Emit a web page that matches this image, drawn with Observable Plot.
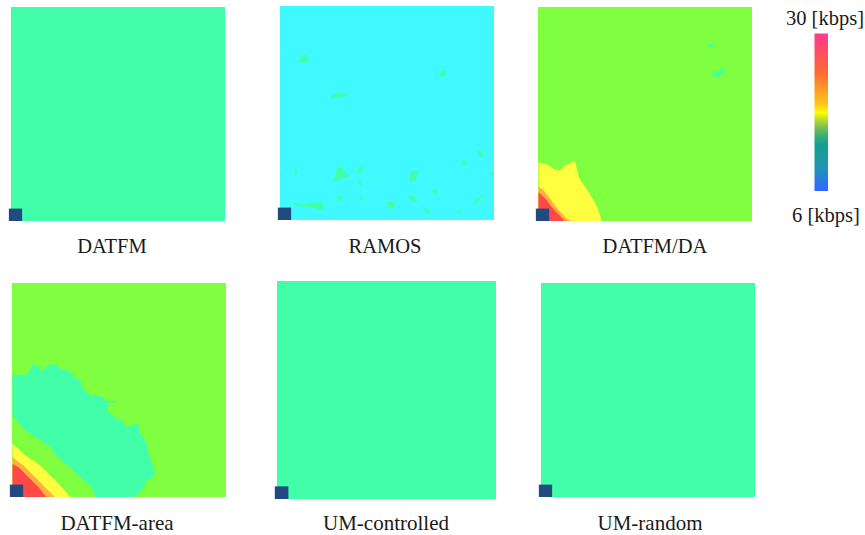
<!DOCTYPE html>
<html>
<head>
<meta charset="utf-8">
<script src="https://cdn.jsdelivr.net/npm/d3@7"></script>
<script src="https://cdn.jsdelivr.net/npm/@observablehq/plot@0.6"></script>
<style>
  html, body { margin: 0; padding: 0; background: #fff; }
  #root { position: relative; width: 865px; height: 535px; overflow: hidden; }
  .panel { position: absolute; }
  .panel svg { background: transparent !important; overflow: visible; }
  .lbl { position: absolute; font-family: "Liberation Serif", "Times New Roman", serif; font-size: 20.5px;
         line-height: 20px; color: #1a1a1a; white-space: nowrap; transform: translateX(-50%); }
  .lbl.row2 { font-size: 21px; }
</style>
</head>
<body>
<div id="root"></div>
<script>
// ---------- data ----------
// throughput band levels (kbps) and their fill colours
const levels = [9, 12, 15, 18, 21, 24];
const levelColors = ["#40f8ff", "#40ffa8", "#80ff40", "#ffff40", "#ffb040", "#ff4848"];

const panelNames = ["DATFM", "RAMOS", "DATFM/DA", "DATFM-area", "UM-controlled", "UM-random"];
const panelBase = [12, 9, 15, 15, 12, 12];   // dominant band level over the field

// sink cell (bottom-left corner of the field, field units 0..100)
const sinkCell = {x1: -1, x2: 5.2, y1: 0, y2: 5.8};

// RAMOS: scattered 12 kbps patches
const ramosSpots = [
  [[8.6,74.3],[9.3,76.9],[11.7,77.4],[13.7,75.7],[12.1,73.8],[9.7,73.8]],
  [[61.7,79.9],[62.5,79.9],[62.3,78.5],[61.8,78.7]],
  [[74.8,69.6],[77.1,70.2],[77.6,68.1],[75.5,67.1],[74.0,67.1]],
  [[23.1,57.5],[24.9,59.0],[31.2,59.7],[31.6,58.1],[26.5,57.6],[23.1,57.0]],
  [[91.6,32.6],[93.8,33.0],[95.0,29.4],[92.7,30.2]],
  [[84.9,27.9],[85.7,28.5],[87.5,26.0],[84.7,26.0]],
  [[98.1,22.4],[100,22.9],[100,19.3]],
  [[0,22.0],[0.8,20.9],[0,19.8]],
  [[6.2,24.8],[7.2,24.0],[8.1,22.4],[7.0,20.6]],
  [[26.5,25.1],[28.8,24.5],[32.7,20.4],[28.8,19.8],[24.3,17.3],[25.7,21.7]],
  [[36.6,25.2],[38.9,24.8],[38.3,22.9],[35.8,21.7]],
  [[36.4,18.8],[37.7,18.2],[38.3,16.2],[36.8,16.0]],
  [[44.2,21.3],[45.5,21.0],[44.9,20.1]],
  [[61.1,23.2],[64.6,23.2],[63.1,18.8],[60.4,18.2],[60.1,20.9]],
  [[70.1,13.6],[73.5,15.1],[73.2,12.3],[71.7,12.6]],
  [[5.5,8.4],[10.9,7.6],[18.7,8.7],[20.6,6.9],[19.5,4.8],[14.0,6.1],[7.0,6.9]],
  [[25.7,11.1],[28.3,11.4],[29.3,8.6],[27.3,9.2]],
  [[37.1,11.1],[38.0,11.4],[38.6,9.5],[37.5,9.2]],
  [[49.5,8.7],[53.7,8.7],[53.0,5.5],[50.8,5.5]],
  [[58.9,11.1],[62.6,11.4],[64.2,8.3],[61.5,9.2]],
  [[66.7,5.5],[69.8,4.8],[69.5,2.6],[68.2,3.3]],
  [[82.2,3.6],[84.4,5.1],[86.0,6.4],[83.3,3.3]],
  [[90.7,9.2],[93.5,11.4],[95.0,11.7],[92.7,9.5],[90.3,7.3]]
];

// DATFM/DA: corner bands near the sink + small 12 kbps patches
const daYellow = [[0,27.7],[4.0,26.6],[6.4,25.1],[7.9,24.1],[10.3,23.8],[11.5,25.7],[14.2,26.9],[16.2,28.2],
  [17.3,27.3],[18.1,23.9],[18.8,20.7],[21.2,16.8],[23.5,13.7],[25.8,9.8],[27.4,6.7],[29.0,2.0],[29.4,0],[0,0]];
const daOrange = [[0,16.4],[2.5,14.5],[4.8,11.4],[7.2,8.3],[9.5,5.1],[11.8,2.8],[13.4,1.2],[15.7,0],[0,0]];
const daRed = [[0,13.7],[1.7,12.1],[4.0,9.8],[5.6,7.5],[7.9,4.8],[10.3,2.3],[12.6,0],[0,0]];
const daSpots = [
  [[79.3,82.9],[81.9,82.9],[81.6,82.0],[80.4,81.2],[79.6,81.6]],
  [[80.7,68.8],[82.7,70.0],[85.0,70.6],[86.9,72.3],[87.0,70.4],[85.0,68.5],[82.7,67.3]],
  [[68.6,89.3],[69.1,89.3],[68.9,88.8]]
];

// DATFM-area: 12 kbps blob + corner bands
const areaBlob = [[0,57.2],[6.8,57.5],[9.2,61.4],[10.3,63.0],[12.3,60.3],[13.8,59.4],[17.0,62.2],[20.1,62.2],
  [23.2,59.9],[27.1,59.1],[28.6,56.0],[31.7,55.2],[32.0,52.9],[34.1,49.8],[37.2,47.4],[41.1,47.4],[44.2,45.1],
  [48.1,45.1],[48.1,44.3],[44.8,44.0],[44.5,41.2],[45.7,38.9],[48.1,37.3],[51.2,35.8],[53.5,32.7],[56.6,34.2],
  [58.9,34.2],[59.7,30.3],[61.6,27.2],[62.8,24.9],[63.6,20.2],[65.2,16.3],[66.7,11.2],[65.2,9.3],[62.8,7.8],
  [61.3,4.7],[58.9,1.6],[55.8,0],[38.7,0],[37.9,3.1],[35.6,6.2],[31.7,9.3],[27.8,13.2],[24.0,16.3],[20.1,20.2],
  [17.7,23.3],[14.6,25.7],[10.0,28.8],[6.1,31.1],[2.2,35.8],[0,38.1]];
const areaYellow = [[0,25.2],[2.2,23.3],[4.5,21.0],[6.8,19.0],[10.0,17.1],[13.1,14.8],[16.2,11.7],[19.3,8.6],
  [22.5,5.4],[24.8,2.8],[27.1,0],[0,0]];
const areaOrange = [[0,19.0],[2.2,17.1],[5.3,14.8],[8.4,11.7],[11.5,8.6],[14.6,5.4],[17.7,2.3],[20.1,0],[0,0]];
const areaRed = [[0,15.6],[3.0,14.0],[5.3,11.7],[7.6,9.3],[10.0,7.0],[12.3,4.7],[14.6,1.6],[16.2,0],[0,0]];

// colour bar (kbps stops -> colours)
const legendStops = [6, 6.96, 9.1, 11.3, 13.2, 14.6, 15.8, 17.0, 18, 19.2, 21.6, 24, 27.1, 30];
const legendColors = ["#3366ff","#3070f0","#2090c0","#1a9aa0","#10a090","#40b070","#80c050","#c0dd30",
  "#ffff00","#ffc81c","#ff9a25","#ff6a35","#ff5060","#ff3d8f"];
const legendLabels = ["30 [kbps]", "6 [kbps]"];

// ---------- layout ----------
const panelRegions = [
  [],
  ramosSpots.map(p => ({level: 12, pts: p})),
  [{level: 18, pts: daYellow}, {level: 21, pts: daOrange}, {level: 24, pts: daRed},
   ...daSpots.map(p => ({level: 12, pts: p}))],
  [{level: 12, pts: areaBlob}, {level: 18, pts: areaYellow}, {level: 21, pts: areaOrange}, {level: 24, pts: areaRed}],
  [],
  []
];
const panelBoxes = [
  {left: 11, top: 7, w: 214, h: 214},
  {left: 280, top: 6, w: 214, h: 214},
  {left: 538, top: 7, w: 214, h: 214},
  {left: 12, top: 283, w: 214, h: 214},
  {left: 277, top: 281, w: 219, h: 218},
  {left: 541, top: 283, w: 214, h: 214}
];
const labelPos = [
  {x: 112, y: 236}, {x: 385, y: 236}, {x: 655, y: 236},
  {x: 117, y: 513}, {x: 386, y: 513}, {x: 650, y: 513}
];

const root = document.getElementById("root");
const PAD = 3;

panelNames.forEach((name, i) => {
  const box = panelBoxes[i];
  const rows = panelRegions[i].flatMap((r, k) => r.pts.map(([x, y]) => ({id: k, level: r.level, x, y})));
  const chart = Plot.plot({
    width: box.w + PAD,
    height: box.h,
    marginLeft: PAD, marginRight: 0, marginTop: 0, marginBottom: 0,
    x: {domain: [0, 100], axis: null},
    y: {domain: [0, 100], axis: null},
    color: {type: "ordinal", domain: levels, range: levelColors},
    marks: [
      Plot.rect([{x1: 0, x2: 100, y1: 0, y2: 100, level: panelBase[i]}],
        {x1: "x1", x2: "x2", y1: "y1", y2: "y2", fill: "level"}),
      Plot.line(rows, {x: "x", y: "y", z: "id", fill: "level", stroke: "none"}),
      Plot.rect([sinkCell], {x1: "x1", x2: "x2", y1: "y1", y2: "y2", fill: "#204a80"})
    ]
  });
  chart.classList.add("panel");
  chart.style.left = (box.left - PAD) + "px";
  chart.style.top = box.top + "px";
  chart.style.position = "absolute";
  root.appendChild(chart);

  const lbl = document.createElement("div");
  lbl.className = i >= 3 ? "lbl row2" : "lbl";
  lbl.textContent = name;
  lbl.style.left = labelPos[i].x + "px";
  lbl.style.top = labelPos[i].y + "px";
  root.appendChild(lbl);
});

// colour bar
const bar = Plot.plot({
  width: 14, height: 158, margin: 0,
  x: {domain: [0, 1], axis: null},
  y: {domain: [6, 30], axis: null},
  color: {type: "linear", domain: legendStops, range: legendColors, interpolate: "rgb"},
  marks: [
    Plot.raster({x1: 0, x2: 1, y1: 6, y2: 30, width: 1, height: 158, fill: (x, y) => y})
  ]
});
bar.style.position = "absolute";
bar.style.left = "814px";
bar.style.top = "33px";
root.appendChild(bar);

[{t: legendLabels[0], x: 825, y: 8}, {t: legendLabels[1], x: 826, y: 205}].forEach(d => {
  const el = document.createElement("div");
  el.className = "lbl";
  el.textContent = d.t;
  el.style.left = d.x + "px";
  el.style.top = d.y + "px";
  root.appendChild(el);
});
</script>
</body>
</html>
